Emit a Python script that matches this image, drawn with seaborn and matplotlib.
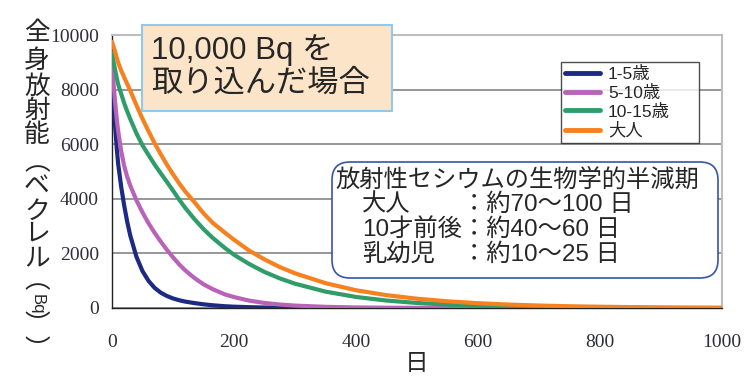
import numpy as np
import pandas as pd
import matplotlib
matplotlib.use("Agg")
import matplotlib.pyplot as plt
import matplotlib.transforms as mtransforms
from matplotlib.patches import FancyBboxPatch, Rectangle
from matplotlib.lines import Line2D
import seaborn as sns

# days after intake (x values shared by all series)
days = [0, 2, 5, 8, 10, 15, 20, 25, 30, 40, 50, 60, 70, 80, 90, 100, 110, 120, 135, 150,
        165, 185, 200, 225, 250, 275, 300, 350, 400, 450, 500, 550, 600, 650, 700, 750,
        800, 850, 900, 950, 1000]

# whole-body activity (Bq); shorter lists end earlier
bq_1_5 = [8800, 7900, 6700, 5800, 5300, 4450, 3750, 3150, 2650, 1880, 1350, 990, 735, 560, 440,
          350, 285, 235, 180, 135, 100, 65, 48, 30, 18, 11, 6, 0]
bq_5_10 = [9000, 8350, 7550, 6880, 6500, 5750, 5200, 4800, 4480, 3950, 3500, 3100, 2750, 2430,
           2130, 1860, 1600, 1380, 1100, 870, 690, 500, 400, 270, 185, 127, 88, 42, 20, 10,
           5, 2, 1, 0, 0]
bq_10_15 = [9350, 9085, 8735, 8400, 8200, 7850, 7500, 7200, 6920, 6400, 5960, 5600, 5250, 4930,
            4620, 4300, 3975, 3670, 3260, 2890, 2570, 2200, 1950, 1610, 1320, 1085, 890, 600,
            405, 273, 184, 124, 84, 56, 38, 26, 17]
bq_adult = [9750, 9600, 9400, 9150, 9000, 8700, 8450, 8200, 7960, 7430, 6930, 6470, 6030, 5630,
            5250, 4900, 4570, 4270, 3880, 3470, 3120, 2760, 2500, 2100, 1780, 1500, 1270, 910,
            650, 470, 340, 245, 175, 125, 90, 64, 46, 33, 24, 17, 12]

groups = ["1-5歳", "5-10歳", "10-15歳", "大人"]
colors = ["#1c2a84", "#b863b8", "#2f9c6a", "#f6811e"]

x_ticks = [0, 200, 400, 600, 800, 1000]
y_ticks = [0, 2000, 4000, 6000, 8000, 10000]

ylabel_chars = ["全", "身", "放", "射", "能", "︵", "ベ", "ク", "レ", "ル", "︵", "Bq", "︶", "︶"]
ylabel_rows = [33, 61, 87, 111, 135, 163, 187, 212, 234, 258, 281, 304, 326, 351]

box_title = "10,000 Bq を\n取り込んだ場合"
info_head = "放射性セシウムの生物学的半減期"
info_left = ["大人", "10才前後", "乳幼児"]
info_right = ["：約70～100 日", "：約40～60 日", "：約10～25 日"]

SANS_JP = ["Liberation Sans", "Noto Sans CJK JP"]


def build_frame():
    rows = []
    for name, vals in zip(groups, [bq_1_5, bq_5_10, bq_10_15, bq_adult]):
        for d, v in zip(days, vals):
            rows.append({"day": d, "bq": v, "group": name})
    return pd.DataFrame(rows)


def main():
    sns.set_style("white")
    plt.rcParams["font.family"] = ["Noto Sans CJK JP", "DejaVu Sans"]

    df = build_frame()

    W, H = 750, 391
    fig = plt.figure(figsize=(7.5, 3.91), dpi=100)
    ax = fig.add_axes([112 / W, 1 - 308 / H, 610 / W, 273 / H])

    sns.lineplot(data=df, x="day", y="bq", hue="group", palette=colors,
                 linewidth=3.0, ax=ax, legend=False, zorder=3)

    ax.set_xlim(0, 1000)
    ax.set_ylim(0, 10000)
    ax.set_xticks(x_ticks)
    ax.set_yticks(y_ticks)
    ax.yaxis.grid(True, color="#7a7a7a", linewidth=1.1)
    ax.xaxis.grid(False)
    for s in ["left", "bottom"]:
        ax.spines[s].set_color("#222222")
        ax.spines[s].set_linewidth(1.0)
    for s in ["top", "right"]:
        ax.spines[s].set_color("#bdbdbd")
        ax.spines[s].set_linewidth(1.5)
    ax.tick_params(axis="both", direction="inout", length=7, width=1, color="#222222",
                   labelsize=14, labelcolor="#2e2e3a", labelfontfamily="Liberation Serif")
    ax.tick_params(axis="y", pad=6)
    ax.tick_params(axis="x", pad=15)
    ax.set_xlabel("日", fontsize=17, labelpad=1)
    ax.set_ylabel("")

    # vertical y label
    for ch, yy in zip(ylabel_chars, ylabel_rows):
        rot = -90 if ch == "Bq" else 0
        size = 12 if ch == "Bq" else 18.5
        fig.text(37 / W, 1 - yy / H, ch, fontsize=size, ha="center", va="center",
                 rotation=rot, family=SANS_JP)

    # legend, stretched to the width of the reference box
    handles = [Line2D([0], [0], color=c, linewidth=3.5) for c in colors]
    leg = ax.legend(handles, groups, loc="upper left",
                    bbox_to_anchor=(561 / W, 1 - 62 / H, 138 / W, 0),
                    bbox_transform=fig.transFigure, mode="expand", frameon=True, fancybox=False,
                    borderaxespad=0, handlelength=2.0, handletextpad=0.45, labelspacing=0.15,
                    borderpad=0.25, prop={"family": SANS_JP, "size": 12.5})
    leg.get_frame().set_edgecolor("#222222")
    leg.get_frame().set_linewidth(1.0)
    leg.set_zorder(5)

    ident = mtransforms.IdentityTransform()

    # peach title box
    fig.patches.append(Rectangle((142, H - 111), 250, 86, transform=ident,
                                 facecolor="#fce4c8", edgecolor="#8ecbea", linewidth=1.5,
                                 zorder=4))
    fig.text(151 / W, 1 - 66 / H, box_title, fontsize=22.5, ha="left", va="center",
             linespacing=1.12, family=SANS_JP, zorder=6)

    # rounded info box
    fig.patches.append(FancyBboxPatch((332, H - 278), 386, 116, transform=ident,
                                      boxstyle="round,pad=0,rounding_size=18",
                                      facecolor="white", edgecolor="#3355aa", linewidth=1.2,
                                      zorder=4))
    fig.text(335 / W, 1 - 180 / H, info_head, fontsize=17.5, ha="left", va="center", zorder=6)
    for i, (l, r) in enumerate(zip(info_left, info_right)):
        yy = 1 - (205 + 25 * i) / H
        fig.text(362 / W, yy, l, fontsize=17.5, ha="left", va="center", zorder=6,
                 family=SANS_JP)
        fig.text(462 / W, yy, r, fontsize=17.5, ha="left", va="center", zorder=6,
                 family=SANS_JP)

    fig.savefig("out.png", dpi=100)
    plt.close(fig)


if __name__ == "__main__":
    main()
